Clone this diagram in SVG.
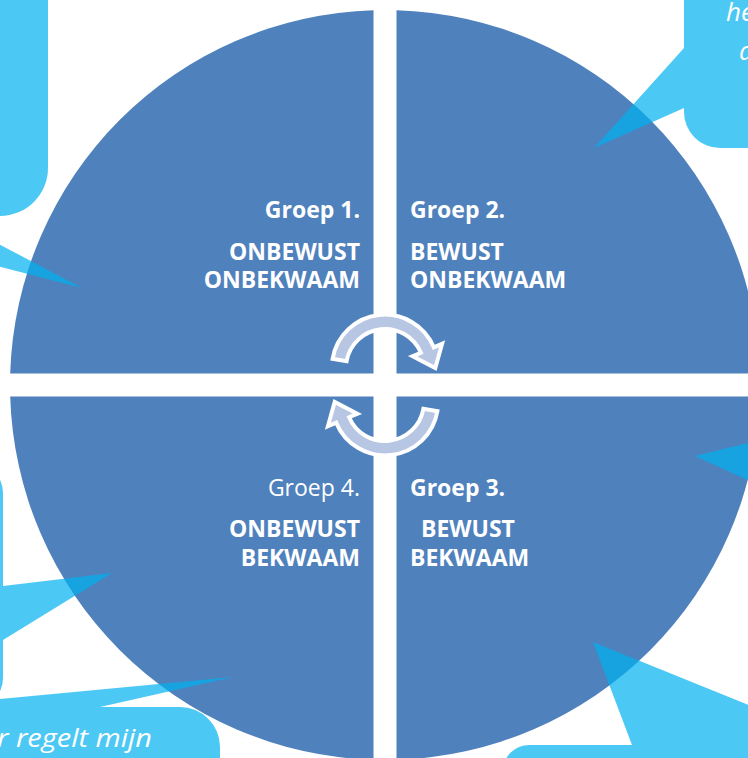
<svg xmlns="http://www.w3.org/2000/svg" width="748" height="758" viewBox="0 0 748 758">
<style>
.q{fill:#4F81BD}
.b{fill:#00B0F0;fill-opacity:0.7}
.t{font-family:"Open Sans","Liberation Sans",sans-serif;font-size:23px;fill:#FFFFFF;font-weight:700}
.r{font-weight:400}
.e{text-anchor:end}
.i{font-family:"Open Sans","Liberation Sans",sans-serif;font-size:26px;font-style:italic;fill:#FFFFFF}
.a{fill:#B7C6E2;stroke:#FFFFFF;stroke-width:4;stroke-linejoin:miter}
</style>
<defs>
<path id="arr" d="M332.6,358.8 A53,53 0 0 1 433.8,347.3 L442.1,343.8 L435.3,368.1 L412.6,356.3 L420.9,352.8 A39,39 0 0 0 346.6,361.2 Z"/>
</defs>
<rect width="748" height="758" fill="#FFFFFF"/>
<g id="q1"><path class="q" d="M373.5,373.5 H10.18 A375,375 0 0 1 373.5,10.18 Z"/></g>
<g id="q2"><path class="q" d="M396.5,373.5 V10.18 A375,375 0 0 1 759.82,373.5 Z"/></g>
<g id="q3"><path class="q" d="M396.5,396.5 H759.82 A375,375 0 0 1 396.5,759.82 Z"/></g>
<g id="q4"><path class="q" d="M373.5,396.5 V759.82 A375,375 0 0 1 10.18,396.5 Z"/></g>
<g id="bubble-top-left"><path class="b" d="M-100,-100 H48 V168 A48,48 0 0 1 0,216 H-100 Z M-60,213 L82,288 L-60,251 Z"/></g>
<g id="bubble-top-right"><path class="b" d="M800,-100 H684 V48 L594,148 L684,108 V112 A36,36 0 0 0 720,148 H800 Z"/>
<text class="i" x="726" y="21">he</text><text class="i" x="739" y="60">d</text></g>
<g id="bubble-right"><path class="b" d="M695,456 L800,430 L800,504 Z"/></g>
<g id="bubble-bottom-right"><path class="b" d="M503,800 V771 A26,26 0 0 1 529,745 H632 L593,642 L850,746 V800 Z"/></g>
<g id="bubble-left"><path class="b" d="M-200,463 H-27 A30,30 0 0 1 3,493 V586 L112,573 L3,640 V678 A30,30 0 0 1 -27,708 H-200 Z"/></g>
<g id="bubble-bottom-left"><path class="b" d="M-100,800 V707 H-85 L233,677 L100,707 H180 A40,40 0 0 1 220,747 V800 Z"/>
<text class="i" x="-3" y="747" textLength="155" lengthAdjust="spacingAndGlyphs">r regelt mijn</text></g>
<g id="connectors">
<use href="#arr" class="a"/>
<use href="#arr" class="a" transform="rotate(180 385 385)"/>
</g>
<g id="label-q1"><text class="t e" x="360" y="218">Groep 1.</text><text class="t e" x="360" y="260">ONBEWUST</text><text class="t e" x="360" y="288">ONBEKWAAM</text></g>
<g id="label-q2"><text class="t" x="410" y="218">Groep 2.</text><text class="t" x="410" y="260">BEWUST</text><text class="t" x="410" y="288">ONBEKWAAM</text></g>
<g id="label-q4"><text class="t r e" x="360" y="496">Groep 4.</text><text class="t e" x="360" y="537">ONBEWUST</text><text class="t e" x="360" y="566">BEKWAAM</text></g>
<g id="label-q3"><text class="t" x="410" y="496">Groep 3.</text><text class="t" x="421" y="537">BEWUST</text><text class="t" x="410" y="566">BEKWAAM</text></g>
</svg>
